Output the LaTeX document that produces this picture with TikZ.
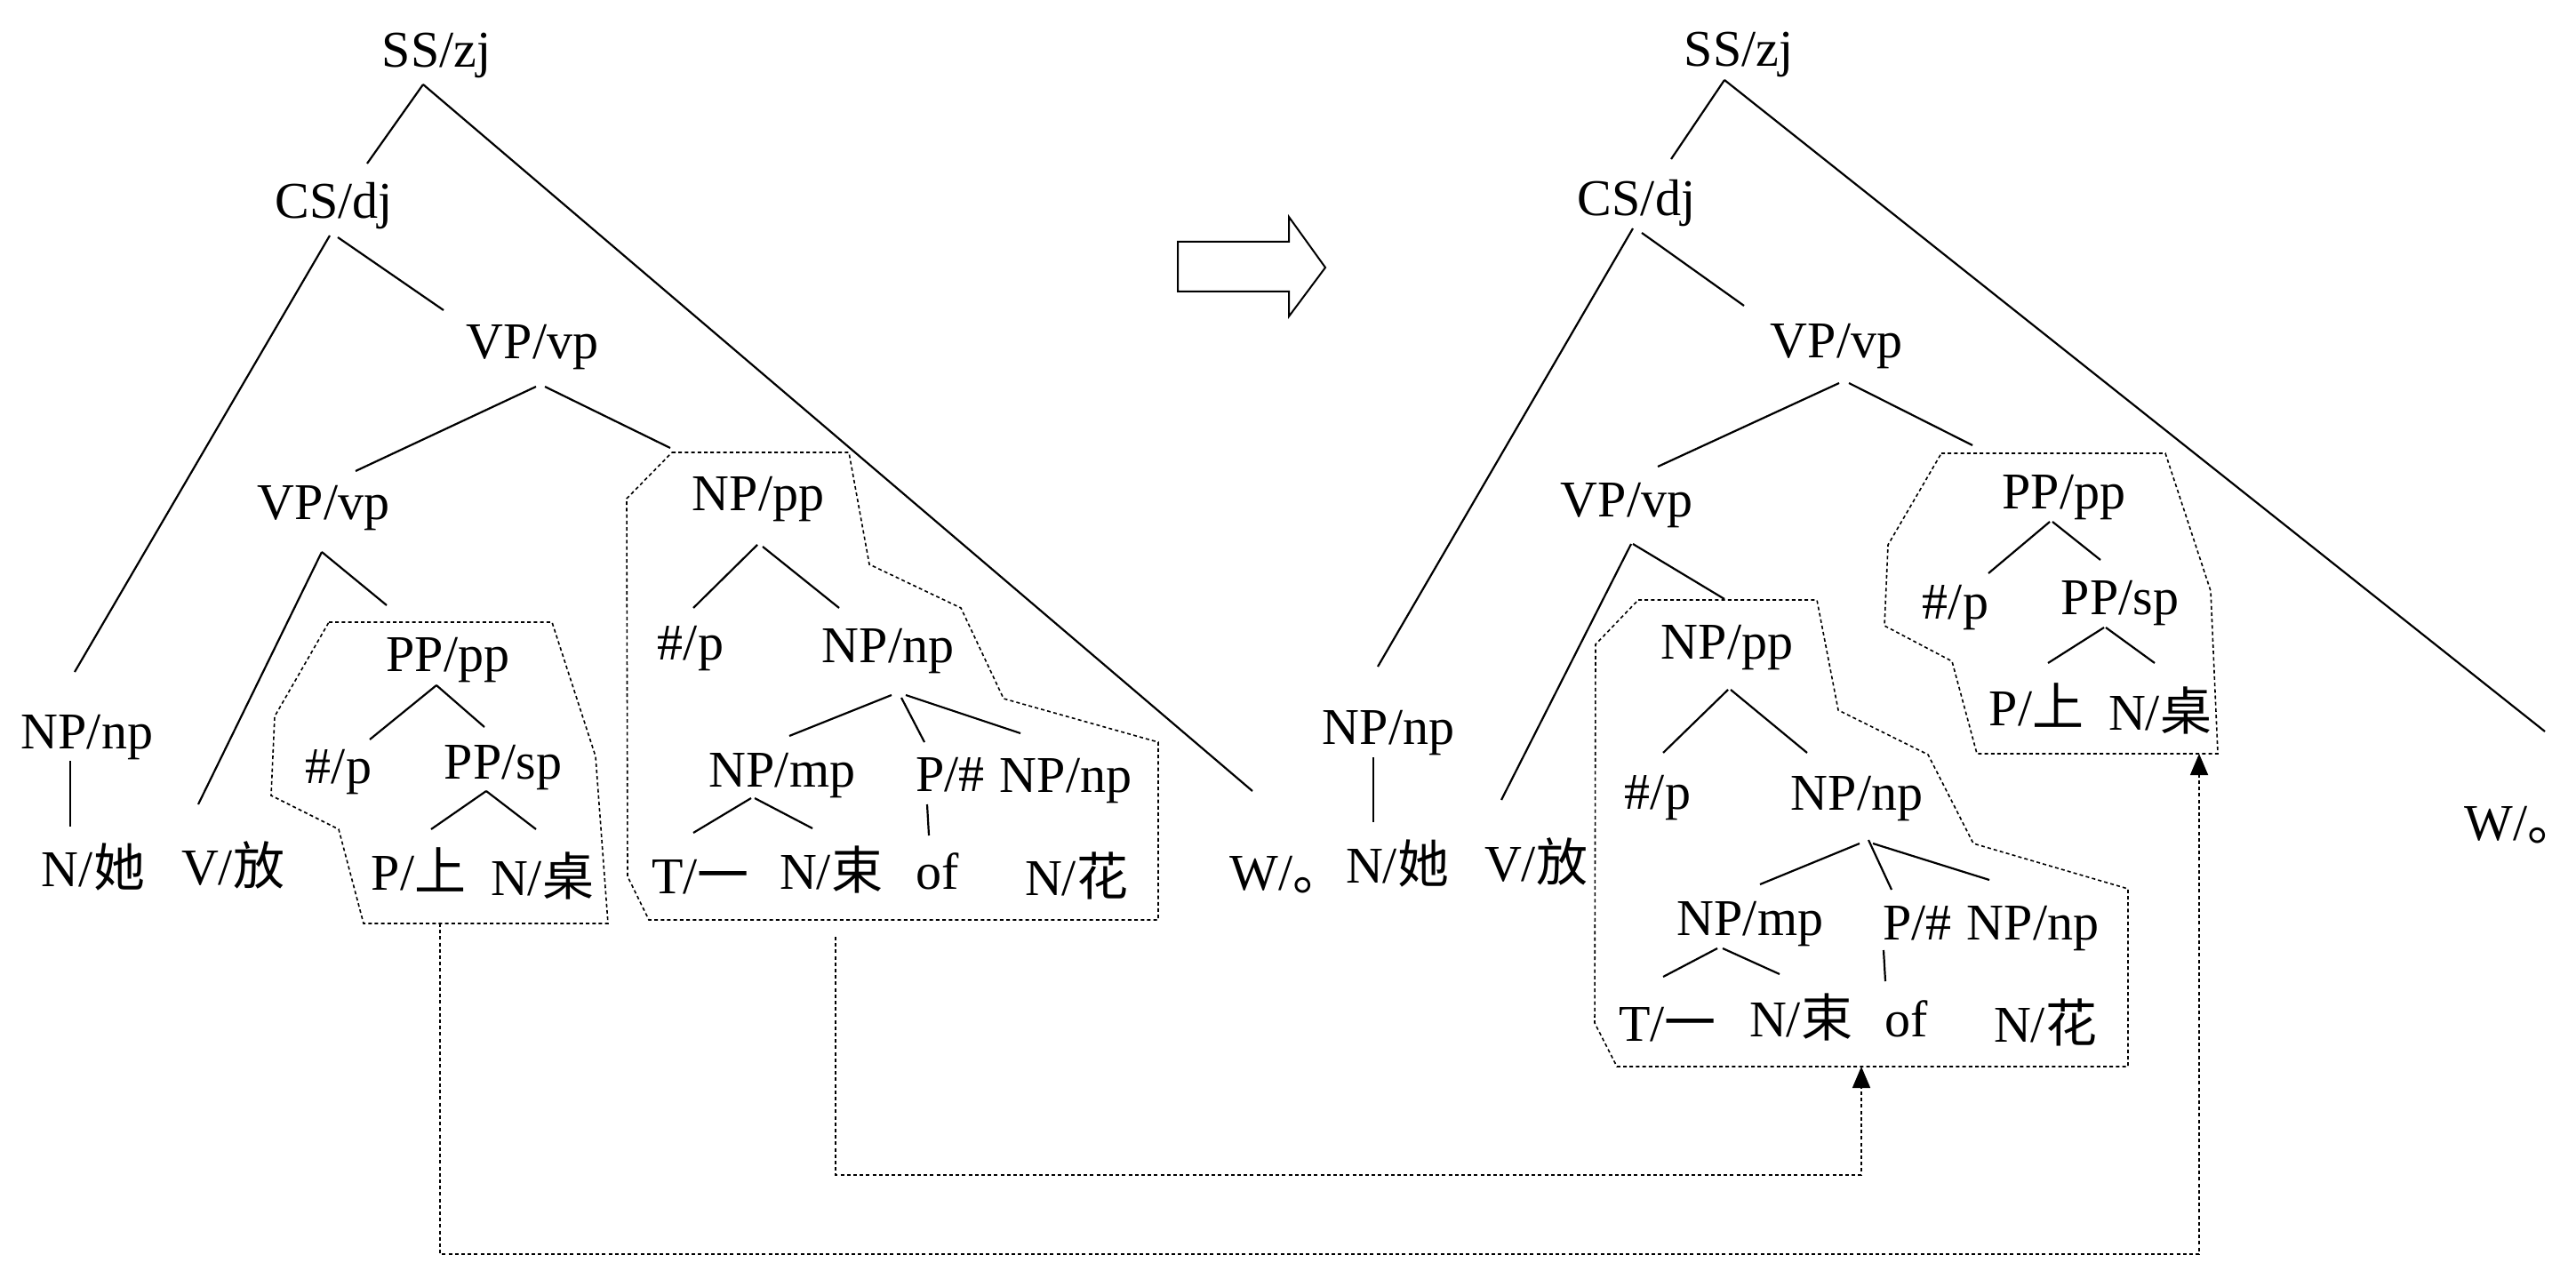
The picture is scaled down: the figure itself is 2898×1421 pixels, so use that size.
\documentclass[tikz,border=0pt]{standalone}
\usepackage{fontspec}
\setmainfont{Liberation Serif}
\newfontfamily\cjk{Noto Sans CJK SC}
\usetikzlibrary{arrows.meta}
\newcommand\lnk[4]{\draw[edge] ([shift={(#2)}]#1.base) -- ([shift={(#4)}]#3.base);}
\begin{document}
\begin{tikzpicture}[x=0.25pt,y=-0.25pt,
  lab/.style={anchor=base,inner sep=0pt,font=\fontsize{14.5}{17}\selectfont},
  edge/.style={line width=0.55pt},
  dbox/.style={line width=0.4pt,dash pattern=on 1pt off 0.8pt},
  conn/.style={line width=0.4pt,dash pattern=on 1pt off 0.8pt,-{Triangle[length=6pt,width=5pt]}},
  bigarrow/.style={line width=0.5pt}]
\useasboundingbox (0,0) rectangle (2898,1421);

% ---------------- left tree ----------------
\node[lab] (ss1) at (491,76) {SS/zj};
\node[lab] (cs1) at (376,246) {CS/dj};
\node[lab] (vpa1) at (599,404) {VP/vp};
\node[lab] (vpb1) at (364,585) {VP/vp};
\node[lab] (nppp1) at (853,575) {NP/pp};
\node[lab] (npnp1) at (98,842) {NP/np};
\node[lab] (pppp1) at (504,756) {PP/pp};
\node[lab] (hp1) at (381,881) {\#/p};
\node[lab] (ppsp1) at (566,876) {PP/sp};
\node[lab] (hp2) at (777,743) {\#/p};
\node[lab] (npnp2) at (999,745) {NP/np};
\node[lab] (npmp1) at (880,885) {NP/mp};
\node[lab] (ph1) at (1069,890) {P/\#};
\node[lab] (npnp3) at (1199,891) {NP/np};
\node[lab] (ta1) at (105,997) {N/{\cjk 她}};
\node[lab] (fang1) at (262,995) {V/{\cjk 放}};
\node[lab] (shang1) at (471,1001) {P/{\cjk 上}};
\node[lab] (zhuo1) at (610,1007) {N/{\cjk 桌}};
\node[lab] (yi1) at (788,1005) {T/{\cjk 一}};
\node[lab] (shu1) at (935,1000) {N/{\cjk 束}};
\node[lab] (of1) at (1055,1000) {of};
\node[lab] (hua1) at (1211,1007) {N/{\cjk 花}};
\node[lab,anchor=base west] (w1) at (1383,1001) {W/{\cjk 。}};

\lnk{ss1}{-15,19}{cs1}{37,-62}
\draw[edge] ([shift={(-15,19)}]ss1.base) -- ([shift={(26,-111)}]w1.base west);
\lnk{cs1}{-5,19}{npnp1}{-14,-86}
\lnk{cs1}{4,21}{vpa1}{-100,-55}
\lnk{vpa1}{4,31}{vpb1}{36,-55}
\lnk{vpa1}{14,31}{nppp1}{-99,-71}
\lnk{vpb1}{-2,36}{fang1}{-39,-90}
\lnk{vpb1}{-2,36}{pppp1}{-69,-75}
\lnk{npnp1}{-19,14}{ta1}{-26,-67}
\lnk{pppp1}{-13,15}{hp1}{35,-49}
\lnk{pppp1}{-13,15}{ppsp1}{-21,-58}
\lnk{ppsp1}{-19,14}{shang1}{14,-68}
\lnk{ppsp1}{-19,14}{zhuo1}{-7,-74}
\lnk{nppp1}{-1,38}{hp2}{3,-59}
\lnk{nppp1}{5,40}{npnp2}{-55,-61}
\lnk{npnp2}{4,37}{npmp1}{8,-57}
\lnk{npnp2}{15,40}{ph1}{-29,-55}
\lnk{npnp2}{20,37}{npnp3}{-51,-66}
\lnk{npmp1}{-35,13}{yi1}{-8,-68}
\lnk{npmp1}{-31,13}{shu1}{-21,-68}
\lnk{ph1}{-26,15}{of1}{-10,-60}

\draw[dbox] (370,700) -- (621,700) -- (670,851) -- (684,1039) -- (409,1039) -- (381,933) -- (305,895) -- (309,806) -- cycle;
\draw[dbox] (756,509) -- (955,509) -- (978,635) -- (1081,684) -- (1129,786) -- (1303,835) -- (1303,1035) -- (730,1035) -- (706,986) -- (705,561) -- cycle;

% ---------------- big hollow arrow ----------------
\draw[bigarrow] (1325,272) -- (1450,272) -- (1450,244) -- (1491,301) -- (1450,356) -- (1450,328) -- (1325,328) -- cycle;

% ---------------- right tree ----------------
\node[lab] (ss2) at (1956,75) {SS/zj};
\node[lab] (cs2) at (1841,243) {CS/dj};
\node[lab] (vpa2) at (2066,403) {VP/vp};
\node[lab] (vpb2) at (1830,582) {VP/vp};
\node[lab] (pppp2) at (2322,573) {PP/pp};
\node[lab] (hp3) at (2200,697) {\#/p};
\node[lab] (ppsp2) at (2385,691) {PP/sp};
\node[lab] (shang2) at (2291,816) {P/{\cjk 上}};
\node[lab] (zhuo2) at (2430,821) {N/{\cjk 桌}};
\node[lab] (npnp4) at (1562,837) {NP/np};
\node[lab] (ta2) at (1572,993) {N/{\cjk 她}};
\node[lab] (fang2) at (1728,991) {V/{\cjk 放}};
\node[lab,anchor=base west] (w2) at (2772,945) {W/{\cjk 。}};
\node[lab] (nppp2) at (1943,742) {NP/pp};
\node[lab] (hp4) at (1865,910) {\#/p};
\node[lab] (npnp5) at (2089,911) {NP/np};
\node[lab] (npmp2) at (1969,1052) {NP/mp};
\node[lab] (ph2) at (2157,1057) {P/\#};
\node[lab] (npnp6) at (2287,1057) {NP/np};
\node[lab] (yi2) at (1876,1171) {T/{\cjk 一}};
\node[lab] (shu2) at (2026,1166) {N/{\cjk 束}};
\node[lab] (of2) at (2145,1166) {of};
\node[lab] (hua2) at (2301,1172) {N/{\cjk 花}};

\lnk{ss2}{-16,15}{cs2}{39,-64}
\draw[edge] ([shift={(-16,15)}]ss2.base) -- ([shift={(91,-122)}]w2.base west);
\lnk{cs2}{-4,14}{npnp4}{-12,-87}
\lnk{cs2}{6,19}{vpa2}{-104,-59}
\lnk{vpa2}{3,28}{vpb2}{35,-57}
\lnk{vpa2}{14,28}{pppp2}{-103,-72}
\lnk{vpb2}{5,30}{fang2}{-39,-91}
\lnk{vpb2}{7,30}{nppp2}{-3,-68}
\lnk{npnp4}{-17,15}{ta2}{-27,-68}
\lnk{pppp2}{-16,14}{hp3}{37,-52}
\lnk{pppp2}{-13,14}{ppsp2}{-22,-61}
\lnk{ppsp2}{-18,15}{shang2}{13,-70}
\lnk{ppsp2}{-16,15}{zhuo2}{-6,-75}
\lnk{nppp2}{1,34}{hp4}{6,-63}
\lnk{nppp2}{4,34}{npnp5}{-56,-64}
\lnk{npnp5}{3,38}{npmp2}{11,-57}
\lnk{npnp5}{13,34}{ph2}{-29,-56}
\lnk{npnp5}{18,38}{npnp6}{-49,-67}
\lnk{npmp2}{-37,15}{yi2}{-5,-72}
\lnk{npmp2}{-31,15}{shu2}{-24,-70}
\lnk{ph2}{-38,12}{of2}{-24,-62}

\draw[dbox] (2184,510) -- (2436,510) -- (2487,665) -- (2495,848) -- (2224,848) -- (2196,744) -- (2120,704) -- (2124,613) -- cycle;
\draw[dbox] (1843,675) -- (2044,675) -- (2068,799) -- (2169,849) -- (2220,949) -- (2394,1000) -- (2394,1200) -- (1819,1200) -- (1794,1151) -- (1795,725) -- cycle;

% ---------------- connectors ----------------
\coordinate (b1) at (495,1039);
\coordinate (t1) at (2474,848);
\coordinate (b2) at (940,1054);
\coordinate (t2) at (2094,1200);
\draw[conn] (b1) -- ++(0,372) -| (t1);
\draw[conn] (b2) -- ++(0,268) -| (t2);
\end{tikzpicture}
\end{document}
